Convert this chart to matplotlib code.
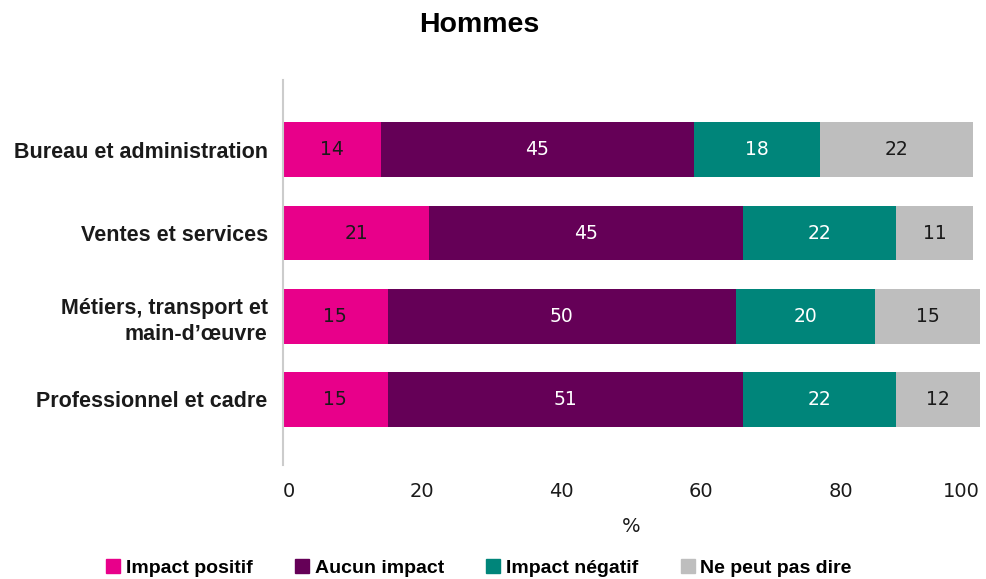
import numpy as np
import matplotlib
matplotlib.use("Agg")
import matplotlib.pyplot as plt
from matplotlib.lines import Line2D

categories = [
    "Bureau et administration",
    "Ventes et services",
    "Métiers, transport et\nmain-d\u2019œuvre",
    "Professionnel et cadre",
]
series_names = ["Impact positif", "Aucun impact", "Impact négatif", "Ne peut pas dire"]
impact_positif = [14, 21, 15, 15]
aucun_impact = [45, 45, 50, 51]
impact_negatif = [18, 22, 20, 22]
ne_peut_pas_dire = [22, 11, 15, 12]
x_ticks = [0, 20, 40, 60, 80, 100]

colors = ["#E8008A", "#650057", "#00857A", "#BEBEBE"]
text_colors = ["#1a1a1a", "white", "white", "#1a1a1a"]

plt.rcParams["font.family"] = ["Liberation Sans", "DejaVu Sans"]
num_font = "DejaVu Sans"

fig = plt.figure(figsize=(9.87, 5.79), dpi=100)
ax = fig.add_axes([283 / 987, 1 - 465 / 579, (980 - 283) / 987, (465 - 80) / 579])

y = np.arange(len(categories))
left = np.zeros(len(categories))
for name, vals, col, tcol in zip(series_names,
                                 [impact_positif, aucun_impact, impact_negatif, ne_peut_pas_dire],
                                 colors, text_colors):
    vals = np.array(vals, dtype=float)
    ax.barh(y, vals, left=left, height=0.66, color=col, label=name)
    for yi, l, v in zip(y, left, vals):
        ax.text(l + v / 2, yi, f"{int(v)}", ha="center", va="center",
                color=tcol, fontsize=13.5, family=num_font)
    left += vals

ax.set_xlim(0, 100)
ax.set_ylim(3.79, -0.84)
ax.set_yticks(y)
ax.set_yticklabels(categories, fontsize=15.5, fontweight="bold", color="#1a1a1a",
                   linespacing=1.35)
ax.set_xticks(x_ticks)
ax.set_xticklabels([str(t) for t in x_ticks], fontsize=14, color="#1a1a1a",
                   family=num_font)
xlabels = ax.get_xticklabels()
xlabels[0].set_ha("left")
xlabels[-1].set_ha("right")
ax.tick_params(axis="both", length=0)
ax.tick_params(axis="y", pad=11)
ax.tick_params(axis="x", pad=12)
for s in ["top", "right", "bottom"]:
    ax.spines[s].set_visible(False)
ax.spines["left"].set_color("#cccccc")
ax.spines["left"].set_linewidth(1.5)

ax.set_xlabel("%", fontsize=14, color="#1a1a1a", labelpad=12, family=num_font)

fig.text(479 / 987, 1 - 25 / 579, "Hommes", ha="center", va="center",
         fontsize=20.5, fontweight="bold")

handles = [Line2D([0], [0], marker="s", linestyle="none", markersize=10,
                  markerfacecolor=c, markeredgecolor=c) for c in colors]
leg = fig.legend(handles, series_names, loc="center", bbox_to_anchor=(479 / 987, 1 - 568 / 579),
                 ncol=4, frameon=False, handlelength=0.7, handletextpad=0.3,
                 columnspacing=2.2, prop={"size": 14, "weight": "bold"})

fig.savefig("out.png", dpi=100)
